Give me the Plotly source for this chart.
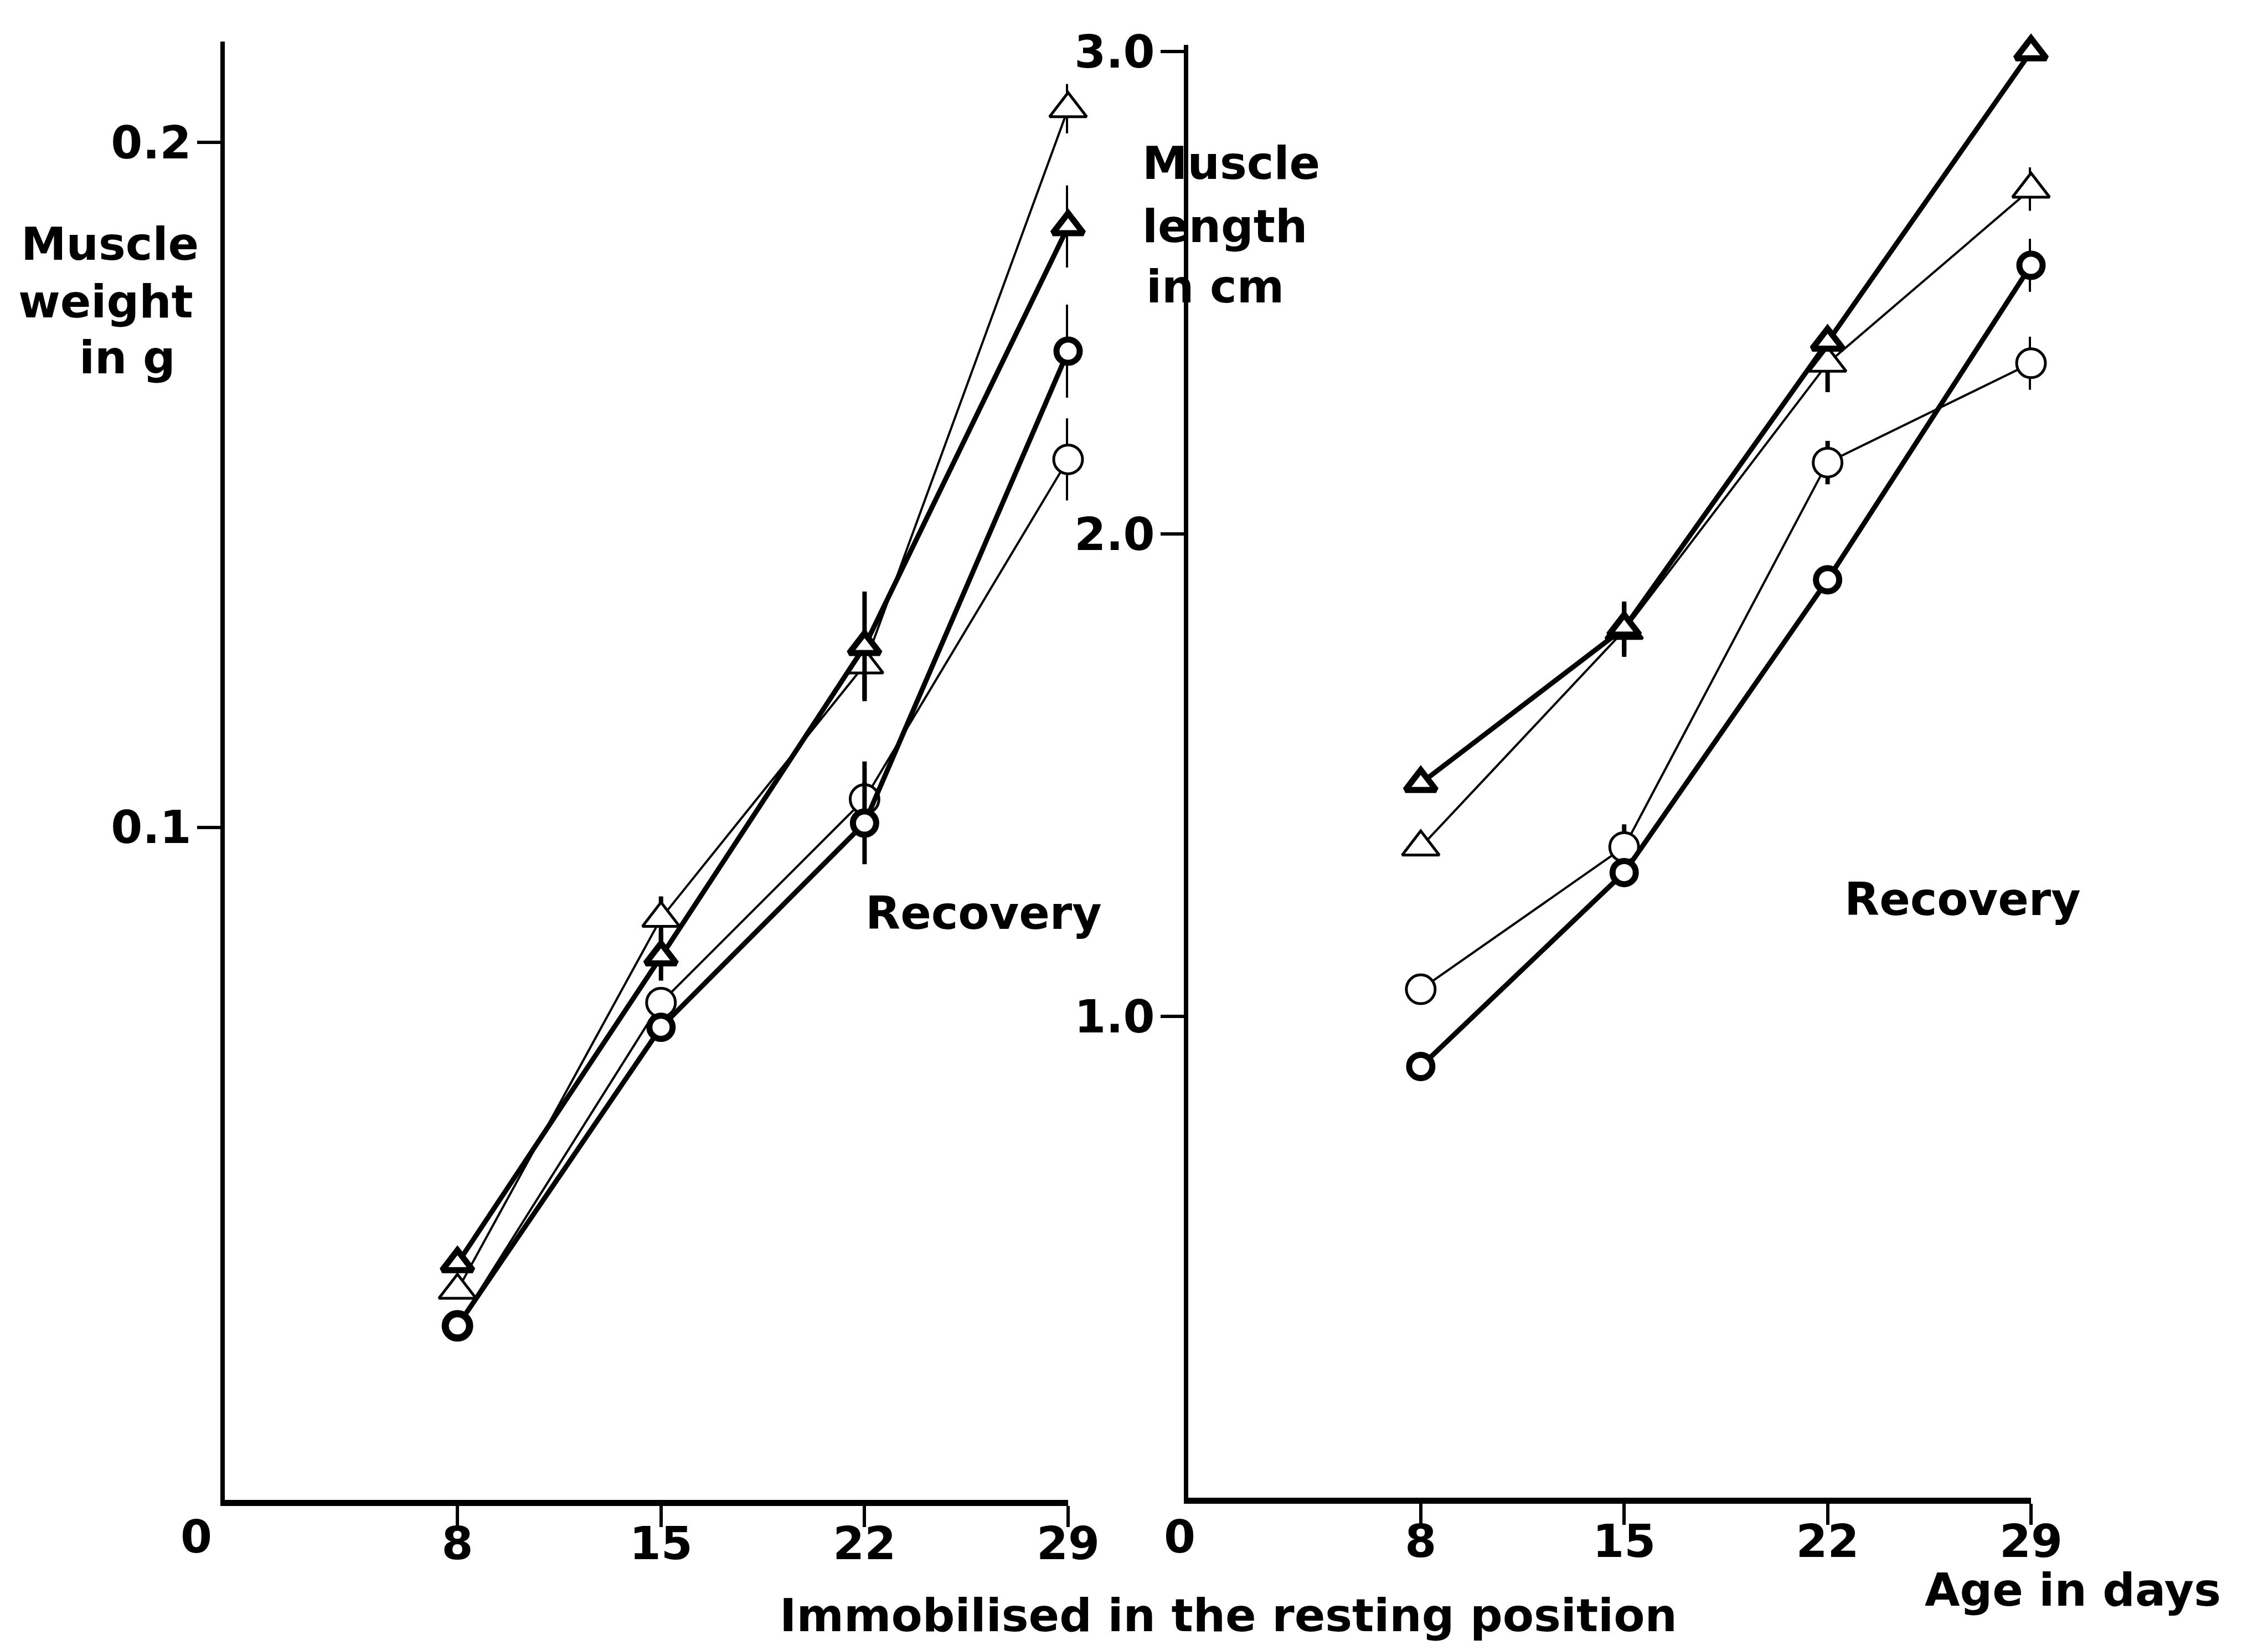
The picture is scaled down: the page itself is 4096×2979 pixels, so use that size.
import plotly.graph_objects as go

# ---------------- data ----------------
days = [8, 15, 22, 29]

# Muscle weight in g (left panel)
weight_thin_tri = [0.0324, 0.0867, 0.1237, 0.2049]
weight_thick_tri = [0.0363, 0.0811, 0.1264, 0.1877]
weight_thin_circ = [0.0272, 0.0744, 0.1041, 0.1537]
weight_thick_circ = [0.0272, 0.0708, 0.1006, 0.1695]
weight_thin_tri_err = [0, 0.0032, 0.005, 0.0036]
weight_thick_tri_err = [0, 0.0035, 0.008, 0.006]
weight_thin_circ_err = [0, 0, 0.0055, 0.006]
weight_thick_circ_err = [0, 0, 0.006, 0.0068]

# Muscle length in cm (right panel)
length_thin_tri = [1.351, 1.800, 2.354, 2.715]
length_thick_tri = [1.483, 1.805, 2.398, 3.000]
length_thin_circ = [1.056, 1.351, 2.148, 2.354]
length_thick_circ = [0.896, 1.298, 1.905, 2.557]
length_thin_tri_err = [0, 0.055, 0.06, 0.045]
length_thick_tri_err = [0, 0.055, 0, 0]
length_thin_circ_err = [0, 0.047, 0.045, 0.055]
length_thick_circ_err = [0, 0, 0, 0.055]

weight_ticks = [0.1, 0.2]
weight_ticktext = ["0.1", "0.2"]
length_ticks = [1.0, 2.0, 3.0]
length_ticktext = ["1.0", "2.0", "3.0"]
day_ticktext = ["8", "15", "22", "29"]

# ---------------- figure ----------------
W, H = 4096, 2979
FONT = dict(family="DejaVu Sans", size=82, color="black", weight="bold")

fig = go.Figure()


def add_series(x, y, err, symbol, thick, xa, ya):
    if thick:
        lw, mlw = 9, 11
        size = 48 if symbol == "triangle-up" else 42
    else:
        lw, mlw = 4, 5
        size = 58 if symbol == "triangle-up" else 52
    fig.add_trace(go.Scatter(
        x=x, y=y, xaxis=xa, yaxis=ya, mode="lines+markers",
        line=dict(color="black", width=lw),
        marker=dict(symbol=symbol, size=size, color="white",
                    line=dict(color="black", width=mlw)),
        error_y=dict(type="data", array=err, visible=True, color="black",
                     thickness=8, width=0),
        cliponaxis=False, showlegend=False, hoverinfo="skip",
    ))


# left panel (thin first, thick on top)
add_series(days, weight_thin_tri, weight_thin_tri_err, "triangle-up", False, "x", "y")
add_series(days, weight_thin_circ, weight_thin_circ_err, "circle", False, "x", "y")
add_series(days, weight_thick_tri, weight_thick_tri_err, "triangle-up", True, "x", "y")
add_series(days, weight_thick_circ, weight_thick_circ_err, "circle", True, "x", "y")

# right panel
add_series(days, length_thin_tri, length_thin_tri_err, "triangle-up", False, "x2", "y2")
add_series(days, length_thin_circ, length_thin_circ_err, "circle", False, "x2", "y2")
add_series(days, length_thick_tri, length_thick_tri_err, "triangle-up", True, "x2", "y2")
add_series(days, length_thick_circ, length_thick_circ_err, "circle", True, "x2", "y2")

xaxis_common = dict(
    range=[0, 29], tickmode="array", tickvals=days, ticktext=day_ticktext,
    ticks="outside", ticklen=38, tickwidth=6, tickcolor="black",
    ticklabelstandoff=-40,
    showline=True, linewidth=11, linecolor="black",
    showgrid=False, zeroline=False, tickfont=FONT, automargin=False,
)
yaxis_common = dict(
    ticks="outside", ticklen=42, tickwidth=6, tickcolor="black",
    ticklabelstandoff=-6,
    showline=True, linewidth=8, linecolor="black",
    showgrid=False, zeroline=False, tickfont=FONT, automargin=False,
)


def px2paper_x(px):
    return px / W


def px2paper_y(py):
    return 1 - py / H


fig.update_layout(
    width=W, height=H, autosize=False,
    margin=dict(l=0, r=0, t=0, b=0),
    paper_bgcolor="white", plot_bgcolor="white",
    xaxis=dict(domain=[px2paper_x(398), px2paper_x(1921)], anchor="y", **xaxis_common),
    yaxis=dict(domain=[px2paper_y(2700), px2paper_y(67)], anchor="x",
               range=[0.0018, 0.2147], tickmode="array",
               tickvals=weight_ticks, ticktext=weight_ticktext, **yaxis_common),
    xaxis2=dict(domain=[px2paper_x(2138), px2paper_x(3660)], anchor="y2", **xaxis_common),
    yaxis2=dict(domain=[px2paper_y(2696), px2paper_y(73)], anchor="x2",
                range=[0.002, 3.014], tickmode="array",
                tickvals=length_ticks, ticktext=length_ticktext, **yaxis_common),
)


def note(text, px, py, xanchor="center"):
    fig.add_annotation(text=text, x=px2paper_x(px), y=px2paper_y(py),
                       xref="paper", yref="paper", showarrow=False,
                       xanchor=xanchor, yanchor="middle", font=FONT)


# axis titles
note("Muscle", 190, 432)
note("weight", 183, 536)
note("in g", 222, 638)
note("Muscle", 2053, 287, "left")
note("length", 2053, 400, "left")
note("in cm", 2060, 510, "left")
# origin labels
note("0", 346, 2766)
note("0", 2122, 2766)
# panel labels
note("Recovery", 1768, 1640)
note("Recovery", 3536, 1615)
note("Immobilised in the resting position", 2210, 2908)
note("Age in days", 3735, 2862)

fig.write_html("out.html")
